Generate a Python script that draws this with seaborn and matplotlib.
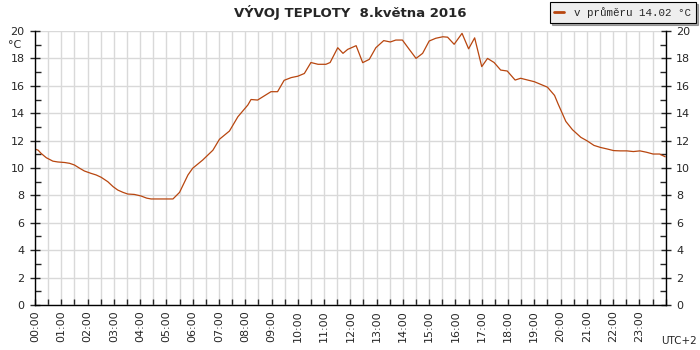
import matplotlib
matplotlib.use("Agg")
import matplotlib.pyplot as plt
from matplotlib.ticker import MultipleLocator, FixedLocator
import pandas as pd
import seaborn as sns

# time of day in hours, temperature in °C
hours = [
    0.00, 0.12, 0.23, 0.43, 0.68, 0.87, 1.13, 1.32, 1.50, 1.70, 1.88, 2.13,
    2.33, 2.52, 2.77, 2.97, 3.15, 3.35, 3.53, 3.78, 4.03, 4.25, 4.42, 5.25,
    5.50, 5.82, 6.00, 6.38, 6.77, 7.02, 7.40, 7.72, 8.10, 8.22, 8.47, 8.67,
    8.98, 9.23, 9.48, 9.75, 10.00, 10.25, 10.50, 10.77, 11.07, 11.23, 11.52,
    11.72, 11.90, 12.22, 12.47, 12.72, 12.97, 13.27, 13.52, 13.73, 13.98,
    14.23, 14.50, 14.75, 15.00, 15.25, 15.52, 15.70, 15.95, 16.25, 16.50,
    16.73, 17.00, 17.22, 17.47, 17.72, 17.97, 18.27, 18.48, 18.75, 19.00,
    19.25, 19.50, 19.77, 19.90, 20.20, 20.45, 20.77, 21.02, 21.27, 21.52,
    21.77, 22.02, 22.27, 22.52, 22.77, 23.02, 23.27, 23.52, 23.77, 23.98,
]
temps = [
    11.38, 11.30, 11.07, 10.75, 10.50, 10.44, 10.40, 10.34, 10.22, 9.98, 9.78, 9.61,
    9.49, 9.32, 9.00, 8.64, 8.39, 8.22, 8.10, 8.07, 7.96, 7.80, 7.74, 7.74,
    8.22, 9.49, 9.98, 10.58, 11.30, 12.10, 12.70, 13.74, 14.60, 15.00, 14.96, 15.20,
    15.57, 15.57, 16.40, 16.60, 16.70, 16.90, 17.70, 17.57, 17.57, 17.70, 18.78,
    18.37, 18.66, 18.93, 17.69, 17.93, 18.78, 19.30, 19.20, 19.34, 19.34,
    18.69, 18.00, 18.37, 19.27, 19.47, 19.58, 19.55, 19.03, 19.83, 18.70,
    19.50, 17.40, 18.00, 17.70, 17.15, 17.08, 16.42, 16.55, 16.42, 16.30,
    16.10, 15.90, 15.30, 14.70, 13.40, 12.80, 12.24, 11.97, 11.65, 11.50,
    11.39, 11.27, 11.25, 11.25, 11.20, 11.25, 11.15, 11.02, 11.02, 10.82,
]
hour_labels = [f"{h:02d}:00" for h in range(24)]
title = "VÝVOJ TEPLOTY  8.května 2016"
legend_label = "v průměru 14.02 °C"

LINE = "#b8460f"
GRID = "#d9d9d9"

df = pd.DataFrame({"hour": hours, "temp": temps})

sns.set_style("white")
plt.rcParams["font.family"] = ["DejaVu Sans"]

fig = plt.figure(figsize=(7, 3.5), dpi=100)
ax = fig.add_axes([0.05, 0.1286, 0.901, 0.7828])

sns.lineplot(data=df, x="hour", y="temp", ax=ax, color=LINE, linewidth=0.9,
             label=legend_label, legend=False)

ax.set_xlim(0, 24)
ax.set_ylim(0, 20)
ax.set_xlabel("")
ax.set_ylabel("")

# grid: every half hour vertically, every 2 °C horizontally
ax.xaxis.set_major_locator(FixedLocator(range(24)))
ax.xaxis.set_minor_locator(MultipleLocator(0.5))
ax.yaxis.set_major_locator(MultipleLocator(2))
ax.yaxis.set_minor_locator(MultipleLocator(1))
ax.set_xticklabels(hour_labels, rotation=90, fontsize=8)
ax.grid(True, which="both", axis="x", color=GRID, linewidth=1)
ax.grid(True, which="major", axis="y", color=GRID, linewidth=1)
ax.set_axisbelow(True)

ax.tick_params(axis="x", which="both", direction="in", length=4, width=1,
               bottom=True, top=False, pad=4)
ax.tick_params(axis="y", which="major", direction="inout", length=7, width=1,
               left=True, right=True, labelleft=True, labelright=True,
               labelsize=8, pad=4)
ax.tick_params(axis="y", which="minor", direction="in", length=4, width=1,
               left=True, right=True)

for side in ("left", "bottom", "right"):
    ax.spines[side].set_visible(True)
    ax.spines[side].set_color("black")
    ax.spines[side].set_linewidth(1)
ax.spines["top"].set_visible(False)

# unit label in place of the 19 tick on the left
ax.text(-0.022, 19, "°C", transform=ax.get_yaxis_transform(), ha="right",
        va="center", fontsize=8)

fig.text(0.5, 0.965, title, ha="center", va="center", fontsize=9.5,
         fontweight="bold")
fig.text(0.995, 0.025, "UTC+2", ha="right", va="center", fontsize=7.5)

handles, labels = ax.get_legend_handles_labels()
leg = fig.legend(handles, labels, loc="upper right", bbox_to_anchor=(0.994, 0.994),
                 frameon=True, fancybox=False, shadow={"color": "#555555", "ox": 1.5, "oy": -1.5},
                 handlelength=0.9, handletextpad=0.9, borderpad=0.45, borderaxespad=0,
                 prop={"family": "Liberation Mono", "size": 7.8})
leg.get_frame().set_facecolor("#eeeeee")
leg.get_frame().set_edgecolor("black")
leg.get_frame().set_linewidth(0.8)
for line in leg.get_lines():
    line.set_linewidth(2)

fig.savefig("out.png", dpi=100)
